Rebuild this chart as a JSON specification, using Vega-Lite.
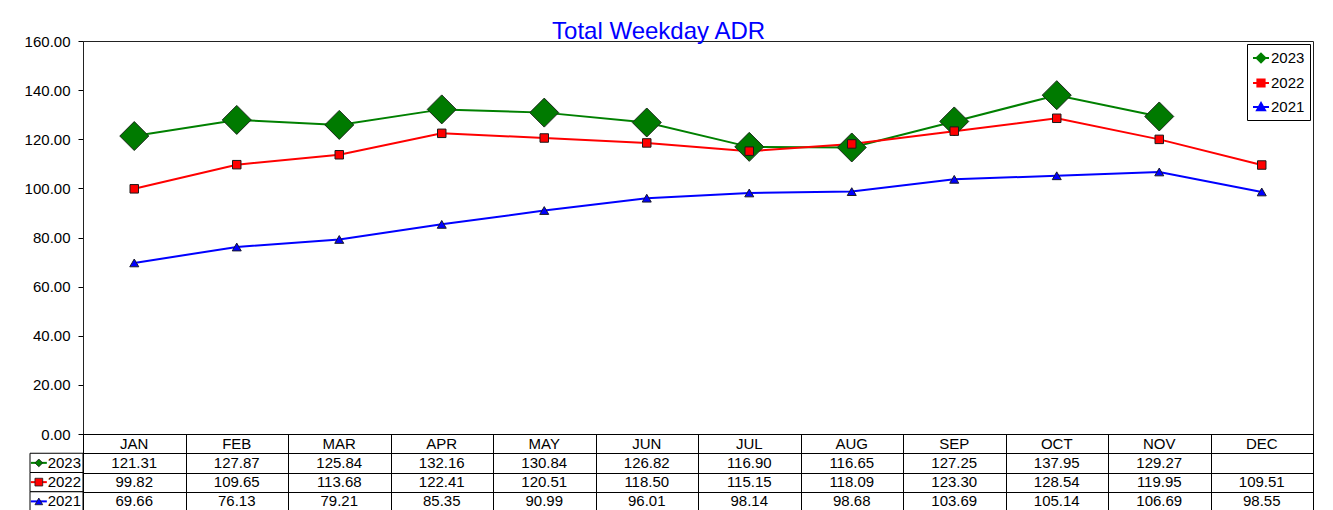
{
  "$schema": "https://vega.github.io/schema/vega-lite/v6.json",
  "background": "white",
  "padding": {"left": 23, "top": 19, "right": 20, "bottom": 0},
  "title": {"text": "Total Weekday ADR", "color": "#0000FF", "fontSize": 24, "font": "Liberation Sans", "fontWeight": "normal", "anchor": "middle", "offset": -10, "dx": -10},
  "config": {
    "font": "Liberation Sans",
    "view": {"stroke": null},
    "axis": {"labelFont": "Liberation Sans", "labelColor": "black"},
    "text": {"font": "Liberation Sans", "fontSize": 15, "color": "black"}
  },
  "datasets": {
    "adr": [
      {"month": "JAN", "series": "2023", "value": 121.31},
      {"month": "FEB", "series": "2023", "value": 127.87},
      {"month": "MAR", "series": "2023", "value": 125.84},
      {"month": "APR", "series": "2023", "value": 132.16},
      {"month": "MAY", "series": "2023", "value": 130.84},
      {"month": "JUN", "series": "2023", "value": 126.82},
      {"month": "JUL", "series": "2023", "value": 116.90},
      {"month": "AUG", "series": "2023", "value": 116.65},
      {"month": "SEP", "series": "2023", "value": 127.25},
      {"month": "OCT", "series": "2023", "value": 137.95},
      {"month": "NOV", "series": "2023", "value": 129.27},
      {"month": "DEC", "series": "2023", "value": null},
      {"month": "JAN", "series": "2022", "value": 99.82},
      {"month": "FEB", "series": "2022", "value": 109.65},
      {"month": "MAR", "series": "2022", "value": 113.68},
      {"month": "APR", "series": "2022", "value": 122.41},
      {"month": "MAY", "series": "2022", "value": 120.51},
      {"month": "JUN", "series": "2022", "value": 118.50},
      {"month": "JUL", "series": "2022", "value": 115.15},
      {"month": "AUG", "series": "2022", "value": 118.09},
      {"month": "SEP", "series": "2022", "value": 123.30},
      {"month": "OCT", "series": "2022", "value": 128.54},
      {"month": "NOV", "series": "2022", "value": 119.95},
      {"month": "DEC", "series": "2022", "value": 109.51},
      {"month": "JAN", "series": "2021", "value": 69.66},
      {"month": "FEB", "series": "2021", "value": 76.13},
      {"month": "MAR", "series": "2021", "value": 79.21},
      {"month": "APR", "series": "2021", "value": 85.35},
      {"month": "MAY", "series": "2021", "value": 90.99},
      {"month": "JUN", "series": "2021", "value": 96.01},
      {"month": "JUL", "series": "2021", "value": 98.14},
      {"month": "AUG", "series": "2021", "value": 98.68},
      {"month": "SEP", "series": "2021", "value": 103.69},
      {"month": "OCT", "series": "2021", "value": 105.14},
      {"month": "NOV", "series": "2021", "value": 106.69},
      {"month": "DEC", "series": "2021", "value": 98.55}
    ]
  },
  "columns": 2,
  "spacing": 0,
  "bounds": "flush",
  "align": "each",
  "resolve": {
    "scale": {"color": "independent", "shape": "independent", "size": "independent", "x": "independent", "y": "independent"},
    "legend": {"color": "independent", "shape": "independent", "size": "independent"}
  },
  "concat": [
    {
      "width": 53, "height": 393,
      "data": {"values": [{"t": ""}]},
      "mark": "text",
      "encoding": {"text": {"field": "t"}}
    },
    {
      "width": 1230, "height": 393,
      "view": {"stroke": "#222222"},
      "data": {"name": "adr"},
      "encoding": {
        "x": {"field": "month", "type": "ordinal", "sort": ["JAN","FEB","MAR","APR","MAY","JUN","JUL","AUG","SEP","OCT","NOV","DEC"], "scale": {"type": "point", "padding": 0.5}, "axis": null},
        "y": {"field": "value", "type": "quantitative", "scale": {"domain": [0, 160], "nice": false},
              "axis": {"values": [0,20,40,60,80,100,120,140,160], "format": ".2f", "labelFontSize": 15, "tickSize": 5, "tickColor": "black", "domainColor": "#222222", "labelPadding": 8, "grid": false, "title": null}}
      },
      "layer": [
        {
          "mark": {"type": "line", "strokeWidth": 2},
          "encoding": {
            "color": {"field": "series", "type": "nominal",
              "scale": {"domain": ["2023","2022","2021"], "range": ["#008000","#FF0000","#0000FF"]},
              "legend": {"title": null, "orient": "top-right", "offset": 3, "strokeColor": "black", "fillColor": "white", "padding": 5, "rowPadding": 7,
                "labelFontSize": 15, "labelFont": "Liberation Sans", "labelColor": "black", "labelOffset": 1, "symbolSize": 256, "symbolStrokeWidth": 2,
                "encode": {"symbols": {"update": {
                  "shape": {"signal": "datum.value === '2023' ? 'M-1,0H1M0,-0.55L0.55,0L0,0.55L-0.55,0Z' : datum.value === '2022' ? 'M-1,0H1M-0.45,-0.45H0.45V0.45H-0.45Z' : 'M-1,0H1M0,-0.5L0.5,0.4H-0.5Z'"},
                  "fill": {"signal": "datum.value === '2023' ? '#008000' : datum.value === '2022' ? '#FF0000' : '#0000FF'"},
                  "fillOpacity": {"value": 1},
                  "strokeWidth": {"value": 2}
                }}}
              }
            }
          }
        },
        {
          "transform": [{"filter": "datum.series === '2023'"}],
          "mark": {"type": "point", "shape": "diamond", "size": 841, "filled": true, "opacity": 1, "fill": "#007A00", "stroke": "#1a2a1a", "strokeWidth": 1}
        },
        {
          "transform": [{"filter": "datum.series === '2022'"}],
          "mark": {"type": "point", "shape": "square", "size": 72, "filled": true, "opacity": 1, "fill": "#FF0000", "stroke": "#1a1a1a", "strokeWidth": 1}
        },
        {
          "transform": [{"filter": "datum.series === '2021'"}],
          "mark": {"type": "point", "shape": "triangle-up", "size": 81, "filled": true, "opacity": 1, "fill": "#0000FF", "stroke": "#1a1a2a", "strokeWidth": 1}
        }
      ]
    },
    {
      "width": 53, "height": 77,
      "data": {"name": "adr"},
      "transform": [{"filter": "datum.month === 'JAN'"}],
      "encoding": {
        "y": {"field": "series", "type": "ordinal", "scale": {"domain": ["hdr","2023","2022","2021"], "paddingInner": 0, "paddingOuter": 0}, "axis": null}
      },
      "layer": [
        {"mark": {"type": "rect", "fill": "white", "stroke": "black", "strokeWidth": 1}},
        {
          "mark": {"type": "point", "shape": "stroke", "size": 256, "strokeWidth": 2, "opacity": 1},
          "encoding": {
            "x": {"datum": "sym", "type": "ordinal", "scale": {"type": "band", "domain": ["sym","a","b"], "paddingInner": 0, "paddingOuter": 0}, "axis": null},
            "color": {"field": "series", "type": "nominal", "scale": {"domain": ["2023","2022","2021"], "range": ["#008000","#FF0000","#0000FF"]}, "legend": null}
          }
        },
        {
          "mark": {"type": "point", "filled": true, "opacity": 1, "stroke": "#1a1a1a", "strokeWidth": 0.8, "size": 60},
          "encoding": {
            "x": {"datum": "sym", "type": "ordinal"},
            "color": {"field": "series", "type": "nominal", "legend": null},
            "shape": {"field": "series", "type": "nominal", "scale": {"domain": ["2023","2022","2021"], "range": ["diamond","square","triangle-up"]}, "legend": null}
          }
        },
        {
          "mark": {"type": "text", "align": "right", "dx": -2, "fontSize": 15},
          "encoding": {
            "x": {"datum": "b", "type": "ordinal", "bandPosition": 1},
            "text": {"field": "series"}
          }
        }
      ]
    },
    {
      "width": 1230, "height": 77,
      "view": {"stroke": "black"},
      "data": {"name": "adr"},
      "encoding": {
        "x": {"field": "month", "type": "ordinal", "sort": ["JAN","FEB","MAR","APR","MAY","JUN","JUL","AUG","SEP","OCT","NOV","DEC"], "scale": {"type": "band", "paddingInner": 0, "paddingOuter": 0},
              "axis": {"tickBand": "extent", "grid": true, "gridColor": "black", "gridOpacity": 1, "domain": false, "ticks": false, "labels": false, "title": null}}
      },
      "layer": [
        {
          "transform": [{"filter": "datum.series === '2023'"}],
          "mark": {"type": "text", "fontSize": 15},
          "encoding": {
            "y": {"datum": "hdr", "type": "ordinal", "scale": {"domain": ["hdr","2023","2022","2021"], "paddingInner": 0, "paddingOuter": 0},
                  "axis": {"tickBand": "extent", "grid": true, "gridColor": "black", "gridOpacity": 1, "domain": false, "ticks": false, "labels": false, "title": null}},
            "text": {"field": "month"}
          }
        },
        {
          "transform": [{"filter": "datum.value != null"}],
          "mark": {"type": "text", "fontSize": 15},
          "encoding": {
            "y": {"field": "series", "type": "ordinal"},
            "text": {"field": "value", "type": "quantitative", "format": ".2f"}
          }
        }
      ]
    }
  ]
}
